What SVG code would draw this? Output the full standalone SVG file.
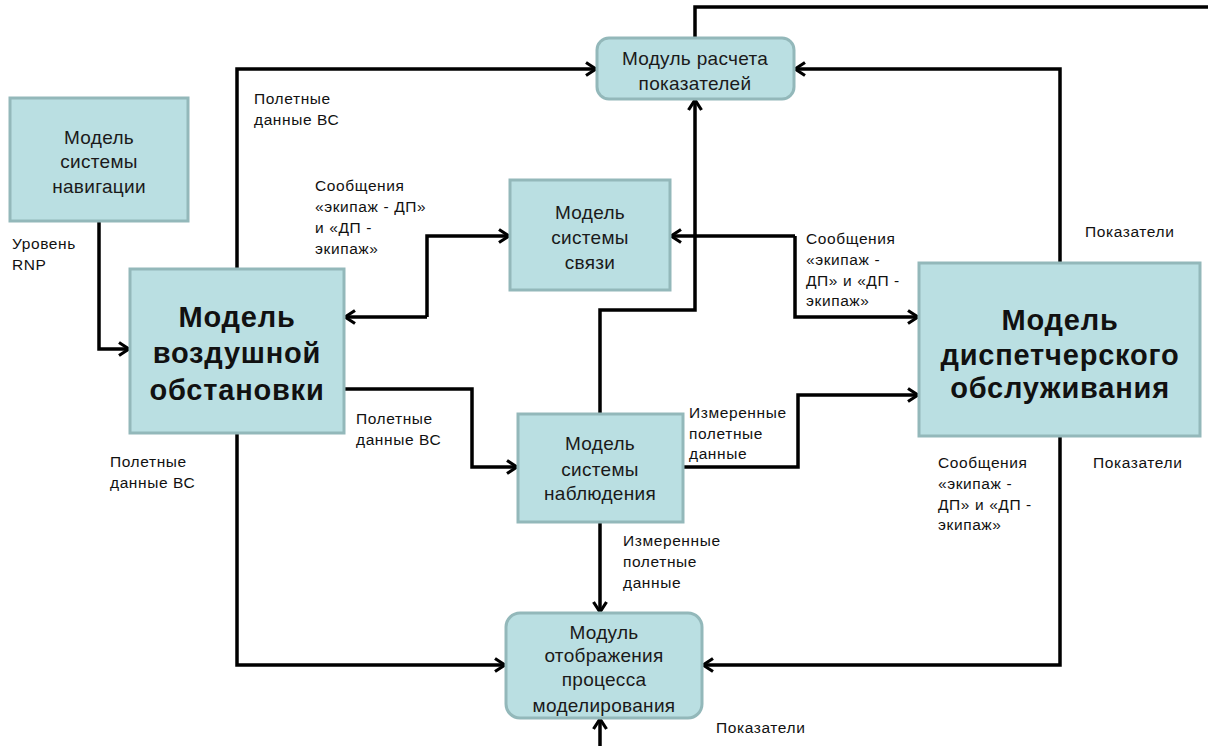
<svg xmlns="http://www.w3.org/2000/svg" width="1208" height="746" viewBox="0 0 1208 746">
<style>
.box{fill:#badfe2;stroke:#93b8ba;stroke-width:3}
.t{font-family:"Liberation Sans",Arial,sans-serif;font-size:19px;fill:#1a1a1a;text-anchor:middle;letter-spacing:0.3px}
.b{font-family:"Liberation Sans",Arial,sans-serif;font-size:29px;font-weight:bold;fill:#111;text-anchor:middle;letter-spacing:0.8px}
.l{font-family:"Liberation Sans",Arial,sans-serif;font-size:15.5px;fill:#111;letter-spacing:0.6px}
.c{fill:none;stroke:#000;stroke-width:3.5;stroke-linejoin:miter}
.a{marker-end:url(#arr)}
</style>
<defs>
<marker id="arr" viewBox="0 0 14 16" refX="12" refY="8" markerWidth="14" markerHeight="16" markerUnits="userSpaceOnUse" orient="auto">
<path d="M2,1.5 L12,8 L2,14.5" fill="none" stroke="#000" stroke-width="3.2" stroke-linejoin="miter"/>
</marker>
</defs>
<rect width="1208" height="746" fill="#fff"/>
<g id="connectors">
<path class="c" d="M695,38 V7 H1208"/>
<path class="c a" d="M237,269 V69 H596"/>
<path class="c a" d="M1060,263 V69 H795"/>
<path class="c a" d="M600,414 V310 H695 V100"/>
<path class="c a" d="M427,317 V236 H509"/>
<path class="c a" d="M427,317 H345"/>
<path class="c a" d="M795,236 H671"/>
<path class="c a" d="M795,236 V317 H918"/>
<path class="c a" d="M99,221 V349 H129"/>
<path class="c a" d="M344,389 H472 V467 H517"/>
<path class="c a" d="M683,467 H798 V395 H918"/>
<path class="c a" d="M600,522 V612"/>
<path class="c a" d="M237,433 V665 H505"/>
<path class="c a" d="M1060,436 V665 H703"/>
<path class="c a" d="M600,746 V719"/>
</g>
<g id="nav">
<rect class="box" x="10" y="98" width="178" height="123"/>
<text class="t" x="99" y="144">Модель</text>
<text class="t" x="99" y="168">системы</text>
<text class="t" x="99" y="193">навигации</text>
</g>
<g id="air">
<rect class="box" x="130" y="269" width="214" height="164"/>
<text class="b" x="237" y="327">Модель</text>
<text class="b" x="237" y="363">воздушной</text>
<text class="b" x="237" y="400">обстановки</text>
</g>
<g id="comm">
<rect class="box" x="510" y="180" width="160" height="110"/>
<text class="t" x="590" y="219">Модель</text>
<text class="t" x="590" y="244">системы</text>
<text class="t" x="590" y="269">связи</text>
</g>
<g id="calc">
<rect class="box" x="597" y="38" width="197" height="61" rx="12"/>
<text class="t" x="695" y="65">Модуль расчета</text>
<text class="t" x="695" y="90">показателей</text>
</g>
<g id="surv">
<rect class="box" x="518" y="414" width="165" height="108"/>
<text class="t" x="600" y="450">Модель</text>
<text class="t" x="600" y="476">системы</text>
<text class="t" x="600" y="500">наблюдения</text>
</g>
<g id="atc">
<rect class="box" x="919" y="263" width="281" height="173"/>
<text class="b" x="1060" y="330">Модель</text>
<text class="b" x="1060" y="365">диспетчерского</text>
<text class="b" x="1060" y="398">обслуживания</text>
</g>
<g id="display">
<rect class="box" x="506" y="613" width="196" height="105" rx="14"/>
<text class="t" x="604" y="639">Модуль</text>
<text class="t" x="604" y="662">отображения</text>
<text class="t" x="604" y="686">процесса</text>
<text class="t" x="604" y="712">моделирования</text>
</g>
<g id="labels">
<text class="l" x="254" y="104">Полетные</text>
<text class="l" x="254" y="125">данные ВС</text>
<text class="l" x="315" y="191">Сообщения</text>
<text class="l" x="315" y="212">«экипаж - ДП»</text>
<text class="l" x="315" y="233">и «ДП -</text>
<text class="l" x="315" y="254">экипаж»</text>
<text class="l" x="12" y="249">Уровень</text>
<text class="l" x="12" y="270">RNP</text>
<text class="l" x="110" y="467">Полетные</text>
<text class="l" x="110" y="488">данные ВС</text>
<text class="l" x="356" y="424">Полетные</text>
<text class="l" x="356" y="445">данные ВС</text>
<text class="l" x="806" y="244">Сообщения</text>
<text class="l" x="806" y="265">«экипаж -</text>
<text class="l" x="806" y="286">ДП» и «ДП -</text>
<text class="l" x="806" y="306">экипаж»</text>
<text class="l" x="1085" y="237">Показатели</text>
<text class="l" x="689" y="418">Измеренные</text>
<text class="l" x="689" y="439">полетные</text>
<text class="l" x="689" y="459">данные</text>
<text class="l" x="938" y="468">Сообщения</text>
<text class="l" x="938" y="489">«экипаж -</text>
<text class="l" x="938" y="510">ДП» и «ДП -</text>
<text class="l" x="938" y="530">экипаж»</text>
<text class="l" x="1093" y="468">Показатели</text>
<text class="l" x="623" y="546">Измеренные</text>
<text class="l" x="623" y="567">полетные</text>
<text class="l" x="623" y="588">данные</text>
<text class="l" x="716" y="733">Показатели</text>
</g>
</svg>
